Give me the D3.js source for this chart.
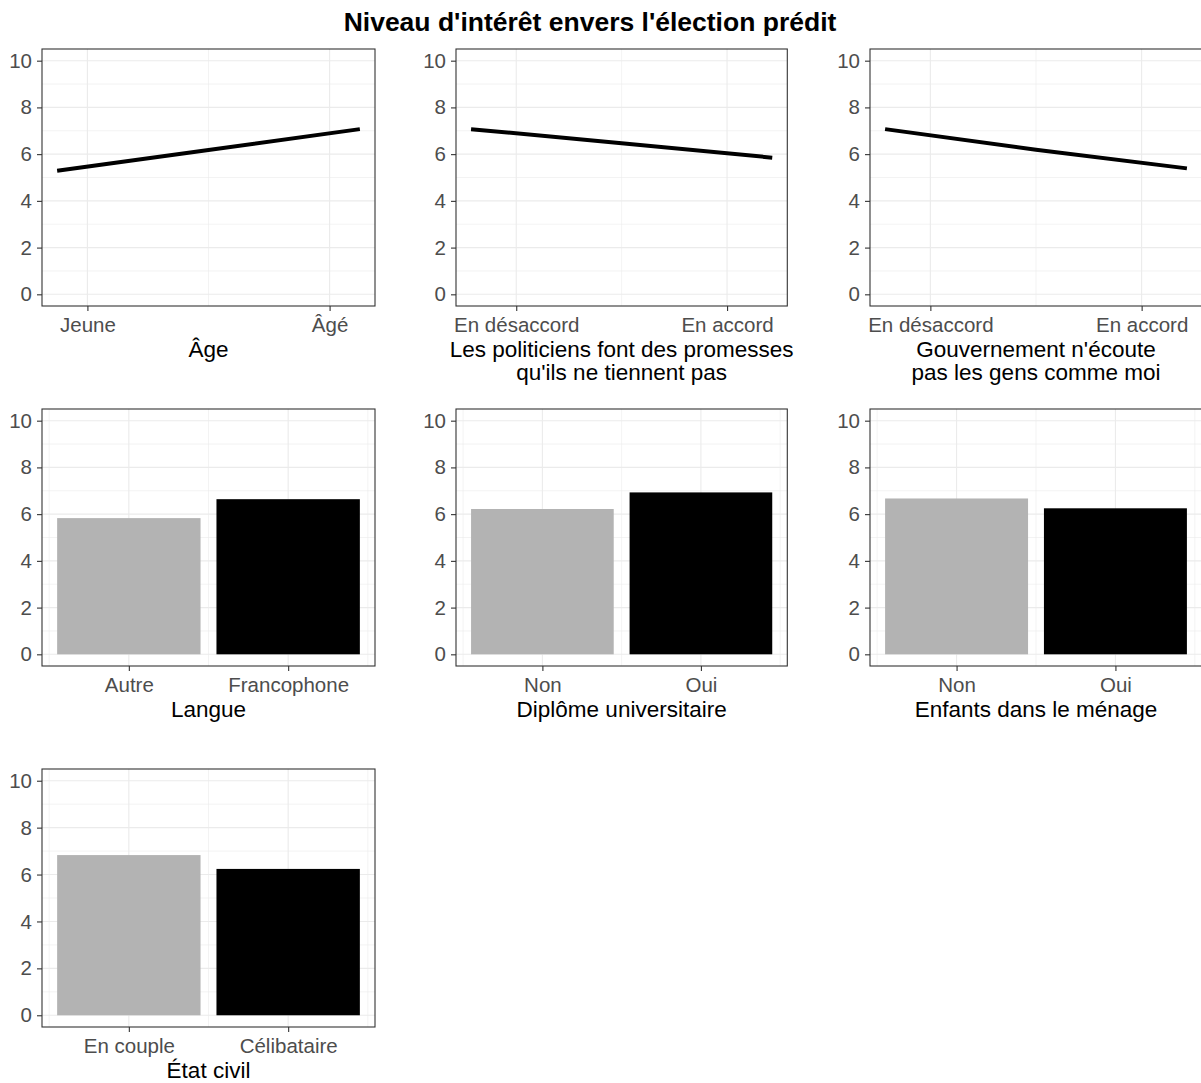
<!DOCTYPE html>
<html>
<head>
<meta charset="utf-8">
<script src="https://cdn.jsdelivr.net/npm/d3@7"></script>
<style>
  html, body { margin: 0; padding: 0; background: #ffffff; }
  svg { display: block; }
  text { font-family: "Liberation Sans", Arial, Helvetica, sans-serif; }
</style>
</head>
<body>
<div id="chart"></div>
<script>
// ---------------- DATA ----------------
const chartTitle = "Niveau d'intérêt envers l'élection prédit";

const yTicks = [0, 2, 4, 6, 8, 10];
const yMinorTicks = [1, 3, 5, 7, 9];

// Line panels (predicted value along the range of the predictor, 0 = min, 1 = max)
const lineX = [0, 0.5, 1];
const ageValues = [5.29, 6.18, 7.07];
const promessesValues = [7.07, 6.47, 5.85];
const gouvernementValues = [7.07, 6.19, 5.39];

const ageTickLabels = ["Jeune", "Âgé"];
const ageTickPos = [0.1, 0.9];
const accordTickLabels = ["En désaccord", "En accord"];
const accordTickPos = [0.15, 0.85];

const ageTitle = ["Âge"];
const promessesTitle = ["Les politiciens font des promesses", "qu'ils ne tiennent pas"];
const gouvernementTitle = ["Gouvernement n'écoute", "pas les gens comme moi"];

// Bar panels
const langueCategories = ["Autre", "Francophone"];
const langueValues = [5.83, 6.64];
const diplomeCategories = ["Non", "Oui"];
const diplomeValues = [6.22, 6.93];
const enfantsCategories = ["Non", "Oui"];
const enfantsValues = [6.67, 6.25];
const etatCategories = ["En couple", "Célibataire"];
const etatValues = [6.83, 6.24];

const barColors = ["#b3b3b3", "#000000"];

// ---------------- LAYOUT ----------------
const W = 1201, H = 1083;
const colX = [[42, 375], [456, 787.3], [870, 1202]];
const rowY = [[49, 306], [409, 666], [769, 1027]];

const svg = d3.select("#chart").append("svg")
  .attr("width", W).attr("height", H)
  .attr("viewBox", `0 0 ${W} ${H}`);

svg.append("text")
  .attr("x", 590).attr("y", 31)
  .attr("text-anchor", "middle")
  .attr("font-size", 26.5)
  .attr("font-weight", "bold")
  .attr("fill", "#000")
  .text(chartTitle);

const TICK_FONT = 20.5, TITLE_FONT = 22.5;

function panelBase(col, row, xScale, xMajor, xMinor, xLabels, titleLines) {
  const [x0, x1] = colX[col];
  const [y0, y1] = rowY[row];
  const w = x1 - x0, h = y1 - y0;
  const g = svg.append("g").attr("transform", `translate(${x0},${y0})`);
  xScale.range([0, w]);
  const y = d3.scaleLinear().domain([-0.5, 10.5]).range([h, 0]);

  // background grid
  const grid = g.append("g");
  grid.selectAll("line.hmin").data(yMinorTicks).join("line")
    .attr("x1", 0).attr("x2", w)
    .attr("y1", d => y(d)).attr("y2", d => y(d))
    .attr("stroke", "#ebebeb").attr("stroke-width", 0.6);
  grid.selectAll("line.vmin").data(xMinor).join("line")
    .attr("y1", 0).attr("y2", h)
    .attr("x1", d => xScale(d)).attr("x2", d => xScale(d))
    .attr("stroke", "#ebebeb").attr("stroke-width", 0.6);
  grid.selectAll("line.hmaj").data(yTicks).join("line")
    .attr("x1", 0).attr("x2", w)
    .attr("y1", d => y(d)).attr("y2", d => y(d))
    .attr("stroke", "#ebebeb").attr("stroke-width", 1.1);
  grid.selectAll("line.vmaj").data(xMajor).join("line")
    .attr("y1", 0).attr("y2", h)
    .attr("x1", d => xScale(d)).attr("x2", d => xScale(d))
    .attr("stroke", "#ebebeb").attr("stroke-width", 1.1);

  const marks = g.append("g");

  // axes
  const yAxis = g.append("g")
    .call(d3.axisLeft(y).tickValues(yTicks).tickSize(5).tickPadding(5));
  const xAxis = g.append("g").attr("transform", `translate(0,${h})`)
    .call(d3.axisBottom(xScale).tickValues(xMajor).tickSize(5).tickPadding(6)
      .tickFormat((d, i) => xLabels[i]));
  [yAxis, xAxis].forEach(a => {
    a.select(".domain").remove();
    a.selectAll(".tick line").attr("stroke", "#333333").attr("stroke-width", 1.1);
    a.selectAll(".tick text")
      .attr("font-size", TICK_FONT)
      .attr("fill", "#4d4d4d")
      .style("font-family", '"Liberation Sans", Arial, Helvetica, sans-serif');
  });

  // panel border
  g.append("rect").attr("x", 0).attr("y", 0).attr("width", w).attr("height", h)
    .attr("fill", "none").attr("stroke", "#333333").attr("stroke-width", 1.1);

  // axis title
  const t = g.append("text")
    .attr("x", w / 2).attr("y", h + 51)
    .attr("text-anchor", "middle")
    .attr("font-size", TITLE_FONT)
    .attr("fill", "#000");
  titleLines.forEach((line, i) => {
    t.append("tspan").attr("x", w / 2).attr("dy", i === 0 ? 0 : 23).text(line);
  });

  return { g: marks, x: xScale, y };
}

function linePanel(col, row, values, tickPos, tickLabels, titleLines) {
  const xs = d3.scaleLinear().domain([-0.05, 1.05]);
  const p = panelBase(col, row, xs, tickPos, [0.5], tickLabels, titleLines);
  const pts = lineX.map((d, i) => [d, values[i]]);
  p.g.append("path")
    .datum(pts)
    .attr("fill", "none")
    .attr("stroke", "#000")
    .attr("stroke-width", 4)
    .attr("stroke-linejoin", "round")
    .attr("d", d3.line().x(d => p.x(d[0])).y(d => p.y(d[1])));
}

function barPanel(col, row, categories, values, titleLines) {
  const xs = d3.scaleLinear().domain([0.455, 2.545]);
  const pos = categories.map((c, i) => i + 1);
  const p = panelBase(col, row, xs, pos, [0.5, 1.5, 2.5], categories, titleLines);
  p.g.selectAll("rect").data(values).join("rect")
    .attr("x", (d, i) => p.x(pos[i] - 0.45))
    .attr("width", (d, i) => p.x(pos[i] + 0.45) - p.x(pos[i] - 0.45))
    .attr("y", d => p.y(d))
    .attr("height", d => p.y(0) - p.y(d))
    .attr("fill", (d, i) => barColors[i]);
}

linePanel(0, 0, ageValues, ageTickPos, ageTickLabels, ageTitle);
linePanel(1, 0, promessesValues, accordTickPos, accordTickLabels, promessesTitle);
linePanel(2, 0, gouvernementValues, accordTickPos, accordTickLabels, gouvernementTitle);

barPanel(0, 1, langueCategories, langueValues, ["Langue"]);
barPanel(1, 1, diplomeCategories, diplomeValues, ["Diplôme universitaire"]);
barPanel(2, 1, enfantsCategories, enfantsValues, ["Enfants dans le ménage"]);
barPanel(0, 2, etatCategories, etatValues, ["État civil"]);
</script>
</body>
</html>
